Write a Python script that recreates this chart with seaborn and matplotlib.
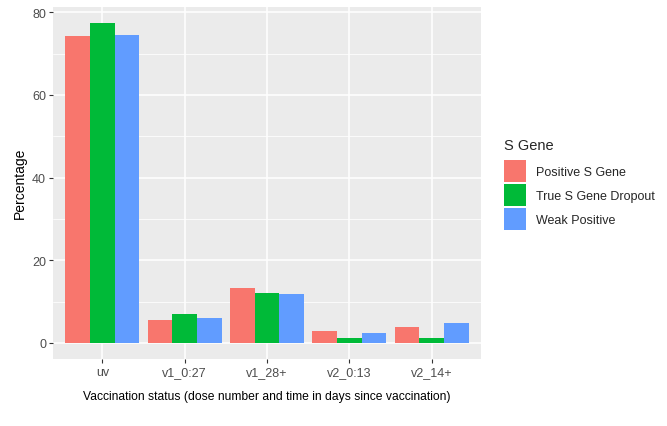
import matplotlib
matplotlib.use("Agg")
import matplotlib.pyplot as plt
import pandas as pd
import seaborn as sns

# values (percentages)
status = ["uv", "v1_0:27", "v1_28+", "v2_0:13", "v2_14+"]
genes = ["Positive S Gene", "True S Gene Dropout", "Weak Positive"]
positive = [74.3, 5.6, 13.4, 2.8, 3.8]
dropout = [77.5, 7.1, 12.2, 1.2, 1.2]
weak = [74.5, 6.1, 11.9, 2.3, 4.8]
y_ticks = [0, 20, 40, 60, 80]

palette = ["#F8766D", "#00BA38", "#619CFF"]

df = pd.DataFrame({
    "status": status * 3,
    "gene": [g for g in genes for _ in status],
    "pct": positive + dropout + weak,
})

sns.set_theme(style="darkgrid")
plt.rcParams["font.family"] = ["Liberation Sans", "DejaVu Sans"]

fig = plt.figure(figsize=(6.67, 4.27), dpi=100)
ax = fig.add_axes([53 / 667, 1 - 360 / 427, 428 / 667, 352.5 / 427])
ax.set_facecolor("#EBEBEB")

sns.barplot(
    data=df, x="status", y="pct", hue="gene", order=status, hue_order=genes,
    palette=palette, saturation=1, width=0.9, gap=0, linewidth=0, ax=ax,
)

ax.set_xlim(-0.6, 4.6)
ymax = max(positive + dropout + weak)
ax.set_ylim(-0.05 * ymax, ymax * 1.05)
ax.set_yticks(y_ticks)
ax.set_yticks([10, 30, 50, 70], minor=True)
ax.grid(which="major", color="white", linewidth=1.1)
ax.grid(which="minor", axis="y", color="white", linewidth=0.55)
ax.set_axisbelow(True)
for s in ax.spines.values():
    s.set_visible(False)

ax.tick_params(axis="both", which="major", bottom=True, left=True, length=3,
               width=0.8, color="#333333", labelcolor="#4D4D4D", labelsize=9, pad=2)
ax.tick_params(axis="both", which="minor", length=0)

ax.set_xlabel("Vaccination status (dose number and time in days since vaccination)",
              fontsize=8.75, color="black", labelpad=9)
ax.set_ylabel("Percentage", fontsize=10, color="black", labelpad=4)

# square keys: patch height = fs * (0.65 * hh + 0.245) -> about 15.6 pt
handles, labels = ax.get_legend_handles_labels()
leg = ax.legend(
    handles, labels, title="S Gene", loc="upper left",
    bbox_to_anchor=(504 / 667, 1 - 139 / 427), bbox_transform=fig.transFigure,
    frameon=False, fontsize=9, title_fontsize=10.5, alignment="left",
    borderpad=0, borderaxespad=0, handlelength=1.73, handleheight=2.29,
    labelspacing=0.19, handletextpad=0.8,
)
# more room between the legend title and the keys
leg._legend_box.sep = 6

fig.savefig("out.png", dpi=100)
